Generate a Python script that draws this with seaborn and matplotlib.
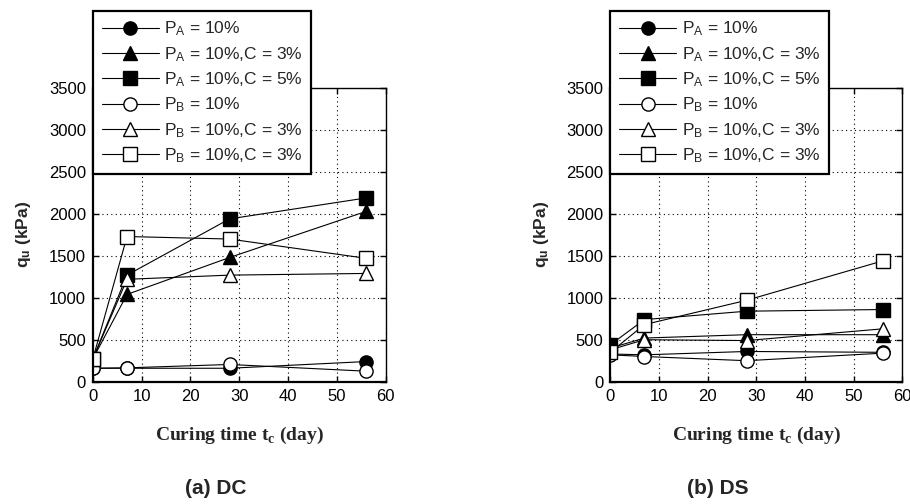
import numpy as np
import pandas as pd
import matplotlib
matplotlib.use('Agg')
import matplotlib.pyplot as plt
import seaborn as sns

sns.set_style('ticks')
plt.rcParams['font.family'] = ['Liberation Sans', 'DejaVu Sans']
plt.rcParams['mathtext.fontset'] = 'custom'
plt.rcParams['mathtext.rm'] = 'Liberation Sans'
plt.rcParams['mathtext.it'] = 'Liberation Sans'
plt.rcParams['mathtext.bf'] = 'Liberation Sans:bold'

# curing times (day)
days = [0, 7, 28, 56]

# series labels / styles
labels = [r'P$_\mathrm{A}$ = 10%',
          r'P$_\mathrm{A}$ = 10%,C = 3%',
          r'P$_\mathrm{A}$ = 10%,C = 5%',
          r'P$_\mathrm{B}$ = 10%',
          r'P$_\mathrm{B}$ = 10%,C = 3%',
          r'P$_\mathrm{B}$ = 10%,C = 3%']
markers = ['o', '^', 's', 'o', '^', 's']
filled = [True, True, True, False, False, False]

# q_u (kPa) -- (a) DC
dc_pa10 = [160, 160, 160, 240]
dc_pa10_c3 = [270, 1040, 1480, 2030]
dc_pa10_c5 = [270, 1270, 1940, 2190]
dc_pb10 = [160, 165, 205, 125]
dc_pb10_c3 = [270, 1220, 1270, 1290]
dc_pb10_c3b = [270, 1730, 1700, 1470]

# q_u (kPa) -- (b) DS
ds_pa10 = [330, 320, 360, 350]
ds_pa10_c3 = [400, 520, 560, 560]
ds_pa10_c5 = [440, 740, 840, 860]
ds_pb10 = [320, 300, 250, 340]
ds_pb10_c3 = [380, 500, 490, 630]
ds_pb10_c3b = [350, 680, 970, 1440]

dc_series = [dc_pa10, dc_pa10_c3, dc_pa10_c5, dc_pb10, dc_pb10_c3, dc_pb10_c3b]
ds_series = [ds_pa10, ds_pa10_c3, ds_pa10_c5, ds_pb10, ds_pb10_c3, ds_pb10_c3b]

fig = plt.figure(figsize=(9.1, 5.04), dpi=100)
ax1 = fig.add_axes([0.102, 0.2427, 0.322, 0.5827])
ax2 = fig.add_axes([0.6707, 0.2427, 0.3209, 0.5827])


def draw(ax, series):
    for vals, lab, mk, fl in zip(series, labels, markers, filled):
        df = pd.DataFrame({'t': days, 'q': vals})
        sns.lineplot(data=df, x='t', y='q', ax=ax, label=lab,
                     color='black', lw=0.8, marker=mk, markersize=9.5,
                     markerfacecolor='black' if fl else 'white',
                     markeredgecolor='black', markeredgewidth=1.0)
    ax.set_xlim(0, 60)
    ax.set_ylim(0, 3500)
    ax.set_xticks(np.arange(0, 61, 10))
    ax.set_yticks(np.arange(0, 3501, 500))
    ax.grid(True, color='black', linestyle=(0, (1, 3)), lw=0.8)
    ax.tick_params(direction='in', length=4, width=1, top=True, right=True,
                   labelsize=12, colors='black', pad=5)
    for s in ax.spines.values():
        s.set_color('black')
        s.set_linewidth(1.0)
    ax.spines['left'].set_linewidth(1.6)
    ax.spines['bottom'].set_linewidth(1.6)
    ax.set_xlabel(r'Curing time t$_\mathregular{c}$ (day)', family='Liberation Serif',
                  fontweight='bold', fontsize=14, labelpad=15)
    ax.set_ylabel(r'q$_\mathbf{u}$ (kPa)', fontweight='bold', fontsize=12.5, labelpad=11)
    leg = ax.legend(loc='upper left', bbox_to_anchor=(0.0, 1.262), fontsize=12.5,
                    frameon=True, fancybox=False, framealpha=1, edgecolor='black',
                    handlelength=3.3, labelspacing=0.38, borderpad=0.5,
                    handletextpad=0.3, borderaxespad=0)
    leg.get_frame().set_linewidth(1.6)


draw(ax1, dc_series)
draw(ax2, ds_series)

fig.text(0.2374, 0.030, '(a) DC', ha='center', va='center', fontsize=15, fontweight='bold')
fig.text(0.789, 0.030, '(b) DS', ha='center', va='center', fontsize=15, fontweight='bold')

fig.savefig('out.png', dpi=100)
